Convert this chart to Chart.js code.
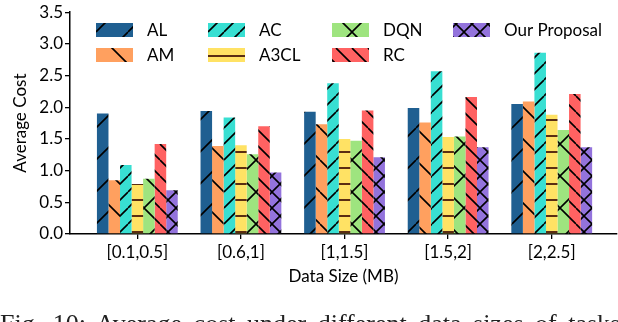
<!DOCTYPE html>
<html>
<head>
<meta charset="utf-8">
<script src="https://cdn.jsdelivr.net/npm/chart.js@4/dist/chart.umd.min.js"></script>
<style>
    html, body { margin: 0; padding: 0; background: #fff; overflow: hidden; }
    #wrap { position: relative; width: 618px; height: 322px; overflow: hidden; }
    #chart { position: absolute; left: 0; top: 0; }
    #caption {
        position: absolute; left: 0; top: 311px; width: 760px;
        font-family: "Liberation Serif", "DejaVu Serif", serif;
        font-size: 26px; line-height: 26px; color: #222; white-space: nowrap;
        word-spacing: 5px;
    }
</style>
</head>
<body>
<div id="wrap">
    <canvas id="chart" width="618" height="322"></canvas>
    <div id="caption">Fig. 10: Average cost under different data sizes of tasks.</div>
</div>
<script>
const categories = ['[0.1,0.5]', '[0.6,1]', '[1,1.5]', '[1.5,2]', '[2,2.5]'];
const yTicks = [0, 0.5, 1.0, 1.5, 2.0, 2.5, 3.0, 3.5];

const costAL = [1.90, 1.94, 1.93, 1.99, 2.05];
const costAM = [0.85, 1.39, 1.73, 1.76, 2.09];
const costAC = [1.09, 1.84, 2.38, 2.57, 2.86];
const costA3CL = [0.79, 1.40, 1.50, 1.53, 1.88];
const costDQN = [0.87, 1.26, 1.47, 1.54, 1.64];
const costRC = [1.42, 1.70, 1.95, 2.16, 2.21];
const costOurs = [0.69, 0.97, 1.21, 1.37, 1.37];

const fontFamily = 'Lato, "Open Sans", sans-serif';

function makeHatch(color, kind, size, lineColor, lineWidth) {
    const c = document.createElement('canvas');
    c.width = size;
    c.height = size;
    const g = c.getContext('2d');
    g.fillStyle = color;
    g.fillRect(0, 0, size, size);
    g.strokeStyle = lineColor;
    g.lineWidth = lineWidth;
    g.beginPath();
    for (const off of [-size, 0, size]) {
        if (kind === '/' || kind === 'x') {
            g.moveTo(off, size);
            g.lineTo(off + size, 0);
        }
        if (kind === '\\' || kind === 'x') {
            g.moveTo(off, 0);
            g.lineTo(off + size, size);
        }
    }
    if (kind === '-') {
        g.moveTo(0, size / 2);
        g.lineTo(size, size / 2);
    }
    g.stroke();
    return g.createPattern(c, 'repeat');
}

const series = [
    { label: 'AL', values: costAL, fill: makeHatch('#1f5f91', '/', 32, '#000', 1.6) },
    { label: 'AM', values: costAM, fill: makeHatch('#ffa05f', '\\', 32, '#000', 1.6) },
    { label: 'AC', values: costAC, fill: makeHatch('#38dfd2', '/', 16, '#000', 1.6) },
    { label: 'A3CL', values: costA3CL, fill: makeHatch('#ffe264', '-', 16, '#5a2d12', 2) },
    { label: 'DQN', values: costDQN, fill: makeHatch('#9ee47f', 'x', 32, '#000', 1.6) },
    { label: 'RC', values: costRC, fill: makeHatch('#ff6262', '\\', 16, '#000', 1.6) },
    { label: 'Our Proposal', values: costOurs, fill: makeHatch('#9373dc', 'x', 16, '#000', 1.6) }
];

const datasets = series.map(s => ({
    label: s.label,
    data: s.values.map((v, i) => ({ x: i, y: v })),
    backgroundColor: s.fill,
    borderWidth: 0,
    categoryPercentage: 0.78,
    barPercentage: 1.0
}));

// legend drawn inside the plot area, 4 columns filled column by column
const insideLegend = {
    id: 'insideLegend',
    afterDraw(chart) {
        const ctx = chart.ctx;
        const area = chart.chartArea;
        const colX = [26, 138, 262, 383];
        const rowY = [23, 48];
        ctx.save();
        ctx.font = '17px ' + fontFamily;
        ctx.textBaseline = 'middle';
        chart.data.datasets.forEach((ds, i) => {
            const col = Math.floor(i / 2);
            const row = i % 2;
            const x = area.left + colX[col];
            const y = rowY[row];
            ctx.fillStyle = ds.backgroundColor;
            ctx.fillRect(x, y, 37, 14);
            ctx.fillStyle = '#000';
            ctx.fillText(ds.label, x + 51, y + 7.5);
        });
        ctx.restore();
    }
};

new Chart(document.getElementById('chart'), {
    type: 'bar',
    data: { datasets: datasets },
    options: {
        responsive: false,
        animation: false,
        layout: { padding: { left: 0, top: 7, right: 1, bottom: 0 } },
        plugins: {
            legend: { display: false },
            tooltip: { enabled: false }
        },
        scales: {
            x: {
                type: 'linear',
                offset: false,
                min: -0.65,
                max: 4.63,
                afterBuildTicks: scale => {
                    scale.ticks = categories.map((c, i) => ({ value: i }));
                },
                afterFit: scale => { scale.height = 88; },
                ticks: {
                    color: '#000',
                    font: { family: fontFamily, size: 17 },
                    padding: 3,
                    maxRotation: 0,
                    autoSkip: false,
                    callback: v => categories[v]
                },
                grid: { display: true, offset: false, drawOnChartArea: false, drawTicks: true, tickLength: 5, color: '#000', lineWidth: 1.3 },
                border: { display: true, color: '#000', width: 1.5 },
                title: {
                    display: true,
                    text: 'Data Size (MB)',
                    color: '#000',
                    font: { family: fontFamily, size: 17 },
                    padding: { top: 0, bottom: 35 }
                }
            },
            y: {
                min: 0,
                max: 3.5,
                afterBuildTicks: scale => {
                    scale.ticks = yTicks.map(v => ({ value: v }));
                },
                afterFit: scale => { scale.width = 70; },
                ticks: {
                    color: '#000',
                    font: { family: fontFamily, size: 17 },
                    padding: 2,
                    callback: v => v.toFixed(1)
                },
                grid: { display: true, drawOnChartArea: false, drawTicks: true, tickLength: 5, color: '#000', lineWidth: 1.3 },
                border: { display: true, color: '#000', width: 1.5 },
                title: {
                    display: true,
                    text: 'Average Cost',
                    color: '#000',
                    font: { family: fontFamily, size: 17 },
                    padding: { top: 10, bottom: 0 }
                }
            }
        }
    },
    plugins: [insideLegend]
});
</script>
</body>
</html>
